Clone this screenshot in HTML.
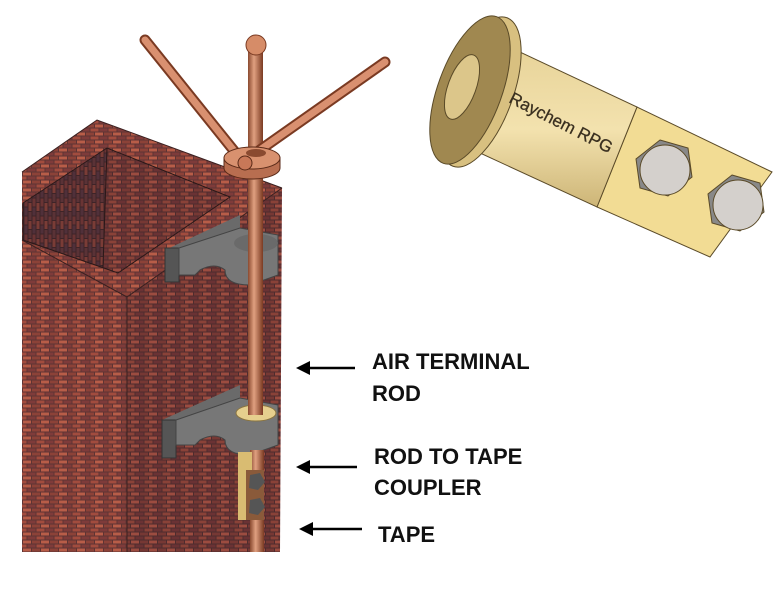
<!DOCTYPE html>
<html><head><meta charset="utf-8"><style>
html,body{margin:0;padding:0;background:#fff}
svg{display:block}
</style></head><body>
<svg width="782" height="592" viewBox="0 0 782 592" xmlns="http://www.w3.org/2000/svg">
<defs>
<pattern id="brick" width="18" height="8" patternUnits="userSpaceOnUse">
<rect width="18" height="8" fill="#5e3434"/>
<rect x="0.5" y="0.5" width="8" height="3" fill="#a24c3e"/>
<rect x="9.5" y="0.5" width="8" height="3" fill="#7e3b3a"/>
<rect x="-4" y="4.5" width="8" height="3" fill="#8c4238"/>
<rect x="5" y="4.5" width="8" height="3" fill="#b85d48"/>
<rect x="14" y="4.5" width="8" height="3" fill="#8c4238"/>
</pattern>
<pattern id="brickD" width="18" height="8" patternUnits="userSpaceOnUse">
<rect width="18" height="8" fill="#4e2c2e"/>
<rect x="0.5" y="0.5" width="8" height="3" fill="#8a4238"/>
<rect x="9.5" y="0.5" width="8" height="3" fill="#6a3234"/>
<rect x="-4" y="4.5" width="8" height="3" fill="#763834"/>
<rect x="5" y="4.5" width="8" height="3" fill="#9c4c40"/>
<rect x="14" y="4.5" width="8" height="3" fill="#763834"/>
</pattern>
<pattern id="brickV" width="8" height="18" patternUnits="userSpaceOnUse">
<rect width="8" height="18" fill="#3e2428"/>
<rect x="0.5" y="0.5" width="3" height="8" fill="#6a3434"/>
<rect x="0.5" y="9.5" width="3" height="8" fill="#50303a"/>
<rect x="4.5" y="-4" width="3" height="8" fill="#5a3236"/>
<rect x="4.5" y="5" width="3" height="8" fill="#7a3c36"/>
<rect x="4.5" y="14" width="3" height="8" fill="#5a3236"/>
</pattern>
<linearGradient id="cu" x1="0" x2="1"><stop offset="0" stop-color="#8a4a30"/><stop offset=".4" stop-color="#e0a080"/><stop offset="1" stop-color="#7a3a22"/></linearGradient>
<linearGradient id="brass" x1="0" y1="0" x2="0" y2="1"><stop offset="0" stop-color="#e8d49a"/><stop offset=".5" stop-color="#f3e2ae"/><stop offset="1" stop-color="#cdb577"/></linearGradient>
</defs>

<!-- chimney -->
<polygon points="22,240 127,297 127,552 22,552" fill="url(#brick)"/>
<polygon points="127,297 282,188 280,552 127,552" fill="url(#brickD)"/>
<polygon points="22,172 97,120 282,188 127,297 22,240" fill="url(#brick)"/>
<!-- opening -->
<polygon points="23,203 107,148 230,197 118,273 23,240" fill="#3a2226"/>
<polygon points="23,203 107,148 103,267 23,240" fill="url(#brickV)"/>
<polygon points="107,148 230,197 118,273 103,267" fill="url(#brickD)"/>
<polygon points="23,203 107,148 230,197 118,273 23,240" fill="none" stroke="#2a1818" stroke-width="1"/>
<line x1="107" y1="148" x2="103" y2="267" stroke="#2a1818"/>
<polyline points="22,172 97,120 282,188" fill="none" stroke="#3a2020" stroke-width="1"/>
<polyline points="22,240 127,297 282,188" fill="none" stroke="#3a2020" stroke-width="1"/>
<line x1="127" y1="297" x2="127" y2="552" stroke="#3a2020"/>

<!-- upper bracket -->
<polygon points="165,250 240,215 240,232 165,268" fill="#6a6a6a"/>
<rect x="165" y="248" width="14" height="34" fill="#555" stroke="#333"/>
<circle cx="183" cy="262" r="2" fill="#fff"/>
<path d="M179,248 L240,228 L278,235 L278,275 L250,285 Q225,285 225,270 Q215,262 200,270 L195,275 L179,275 Z" fill="#777" stroke="#444" stroke-width="1"/>
<ellipse cx="256" cy="243" rx="22" ry="9" fill="#6a6a6a"/>
<!-- lower bracket -->
<polygon points="162,420 240,385 240,402 162,438" fill="#6a6a6a"/>
<rect x="162" y="420" width="14" height="38" fill="#555" stroke="#333"/>
<circle cx="180" cy="435" r="2" fill="#fff"/>
<path d="M176,420 L240,398 L278,405 L278,445 L250,455 Q225,455 225,440 Q215,432 200,440 L195,445 L176,445 Z" fill="#777" stroke="#444" stroke-width="1"/>
<ellipse cx="256" cy="413" rx="20" ry="8" fill="#e6cf8e" stroke="#8a7440"/>

<!-- rod -->
<rect x="248" y="45" width="15" height="370" fill="url(#cu)"/>
<rect x="250" y="450" width="14" height="102" fill="url(#cu)"/>
<rect x="238" y="452" width="14" height="68" fill="#d9bc72"/>
<rect x="246" y="470" width="18" height="50" fill="#8a5a3a"/>
<polygon points="250,475 260,473 265,482 258,490 249,488" fill="#555"/>
<polygon points="250,500 260,498 265,507 258,515 249,513" fill="#555"/>
<circle cx="256" cy="45" r="10" fill="#d68c68" stroke="#7a3a22"/>
<!-- arms -->
<line x1="243" y1="162" x2="145" y2="40" stroke="#7a3a22" stroke-width="11" stroke-linecap="round"/>
<line x1="243" y1="162" x2="145" y2="40" stroke="#d99070" stroke-width="7" stroke-linecap="round"/>
<line x1="260" y1="150" x2="385" y2="62" stroke="#7a3a22" stroke-width="11" stroke-linecap="round"/>
<line x1="260" y1="150" x2="385" y2="62" stroke="#d99070" stroke-width="7" stroke-linecap="round"/>
<!-- hub -->
<path d="M224,158 L224,168 A28,11 0 0 0 280,168 L280,158 Z" fill="#b86e50" stroke="#5a2a18"/>
<ellipse cx="252" cy="158" rx="28" ry="11" fill="#d8916f" stroke="#5a2a18"/>
<ellipse cx="256" cy="153" rx="10" ry="4" fill="#8a4a30"/>
<circle cx="245" cy="163" r="7" fill="#c87858" stroke="#5a2a18"/>

<!-- coupler picture -->
<g stroke="#5a4a28" stroke-width="1">
<polygon points="597,207 637,107 772,172 710,257" fill="#f2dc94"/>
<polygon points="480,153 520,52 637,107 597,207" fill="url(#brass)"/>
<ellipse cx="480" cy="92" rx="33" ry="79" transform="rotate(20 480 92)" fill="#d8c080"/>
<ellipse cx="470" cy="90" rx="32" ry="78" transform="rotate(20 470 90)" fill="#a08850"/>
<ellipse cx="462" cy="87" rx="14" ry="34" transform="rotate(20 462 87)" fill="#dcc68a"/>
<polygon points="660,140 688,148 692,177 668,196 640,188 636,159" fill="#888"/>
<circle cx="665" cy="170" r="25" fill="#d4d0cc"/>
<polygon points="732,175 760,183 764,212 740,231 712,223 708,194" fill="#888"/>
<circle cx="738" cy="205" r="25" fill="#d4d0cc"/>
</g>
<text x="0" y="0" transform="translate(508,102) rotate(27)" font-family="Liberation Sans, sans-serif" font-size="17" fill="#3a3020" stroke="#3a3020" stroke-width=".3">Raychem RPG</text>

<!-- arrows & labels -->
<g stroke="#000" stroke-width="2.5">
<line x1="355" y1="368" x2="305" y2="368"/>
<line x1="357" y1="467" x2="305" y2="467"/>
<line x1="362" y1="529" x2="308" y2="529"/>
</g>
<polygon points="296,368 310,361 310,375" fill="#000"/>
<polygon points="296,467 310,460 310,474" fill="#000"/>
<polygon points="299,529 313,522 313,536" fill="#000"/>
<g font-family="Liberation Sans, sans-serif" font-weight="bold" font-size="22" fill="#111">
<text x="372" y="369">AIR TERMINAL</text>
<text x="372" y="401">ROD</text>
<text x="374" y="464">ROD TO TAPE</text>
<text x="374" y="495">COUPLER</text>
<text x="378" y="542">TAPE</text>
</g>
</svg>
</body></html>
